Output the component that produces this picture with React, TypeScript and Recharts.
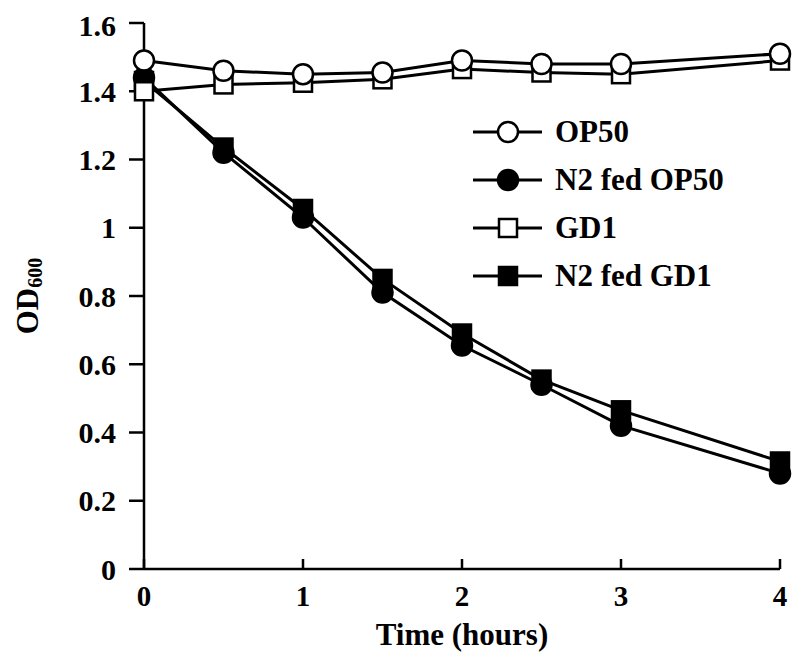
import { Label, Legend, Line, LineChart, XAxis, YAxis } from 'recharts';

const hours = [0, 0.5, 1, 1.5, 2, 2.5, 3, 4];
const op50 = [1.49, 1.46, 1.45, 1.455, 1.49, 1.48, 1.48, 1.51];
const n2FedOp50 = [1.44, 1.22, 1.03, 0.81, 0.655, 0.54, 0.42, 0.28];
const gd1 = [1.4, 1.42, 1.425, 1.435, 1.465, 1.455, 1.45, 1.49];
const n2FedGd1 = [1.43, 1.235, 1.055, 0.85, 0.69, 0.555, 0.465, 0.315];

const xTicks = [0, 1, 2, 3, 4];
const yTicks = [0, 0.2, 0.4, 0.6, 0.8, 1, 1.2, 1.4, 1.6];

const FONT = "'Liberation Serif', 'Times New Roman', serif";

interface SeriesDef {
    key: string;
    name: string;
    shape: 'circle' | 'square';
    fill: string;
}

// drawn in this order, so the open markers end up on top
const series: SeriesDef[] = [
    { key: 'n2op50', name: 'N2 fed OP50', shape: 'circle', fill: '#000' },
    { key: 'n2gd1', name: 'N2 fed GD1', shape: 'square', fill: '#000' },
    { key: 'gd1', name: 'GD1', shape: 'square', fill: '#fff' },
    { key: 'op50', name: 'OP50', shape: 'circle', fill: '#fff' },
];
const legendOrder = ['op50', 'n2op50', 'gd1', 'n2gd1'];

const data = hours.map((t, i) => ({
    t,
    op50: op50[i],
    n2op50: n2FedOp50[i],
    gd1: gd1[i],
    n2gd1: n2FedGd1[i],
}));

const Marker = ({ cx, cy, shape, fill }: { cx: number; cy: number; shape: string; fill: string }) =>
    shape === 'circle' ? (
        <circle cx={cx} cy={cy} r={10} fill={fill} stroke='#000' strokeWidth={2.5} />
    ) : (
        <rect x={cx - 9} y={cy - 9} width={18} height={18} fill={fill} stroke='#000' strokeWidth={2.5} />
    );

const X_TICK_GAP = 27;

const XTick = (props: any) => {
    const { x, y, payload } = props;
    const axisY = y - X_TICK_GAP;
    return (
        <g>
            <line x1={x} x2={x} y1={axisY} y2={axisY - 10} stroke='#000' strokeWidth={2.5} />
            <text x={x} y={y} dy='0.35em' textAnchor='middle' fontFamily={FONT} fontWeight='bold' fontSize={29} fill='#000'>
                {payload.value}
            </text>
        </g>
    );
};

const YLabel = (props: any) => {
    const vb = props.viewBox;
    const cx = 19;
    const cy = vb.y + vb.height / 2;
    return (
        <text
            x={cx}
            y={cy}
            transform={`rotate(-90, ${cx}, ${cy})`}
            textAnchor='middle'
            dominantBaseline='central'
            fontFamily={FONT}
            fontWeight='bold'
            fontSize={31}
            fill='#000'
        >
            OD<tspan fontSize={20} dy={8}>600</tspan>
        </text>
    );
};

const XLabel = (props: any) => {
    const vb = props.viewBox;
    return (
        <text
            x={vb.x + vb.width / 2}
            y={vb.y + 65}
            textAnchor='middle'
            dominantBaseline='central'
            fontFamily={FONT}
            fontWeight='bold'
            fontSize={31}
            fill='#000'
        >
            Time (hours)
        </text>
    );
};

const LegendBox = () => (
    <div>
        {legendOrder.map((k) => {
            const s = series.find((d) => d.key === k)!;
            return (
                <div key={k} style={{ display: 'flex', alignItems: 'center', height: 48 }}>
                    <svg width={88} height={48}>
                        <line x1={11} x2={80} y1={24} y2={24} stroke='#000' strokeWidth={3} />
                        <Marker cx={46} cy={24} shape={s.shape} fill={s.fill} />
                    </svg>
                    <span style={{ marginLeft: 5, fontFamily: FONT, fontWeight: 'bold', fontSize: 31, whiteSpace: 'nowrap' }}>
                        {s.name}
                    </span>
                </div>
            );
        })}
    </div>
);

export default function App() {
    return (
        <LineChart width={792} height={657} data={data} margin={{ top: 15, right: 20, bottom: 36, left: 0 }}>
            <XAxis
                dataKey='t'
                type='number'
                domain={[0, 4]}
                ticks={xTicks}
                height={60}
                tickSize={0}
                tickMargin={X_TICK_GAP}
                tickLine={false}
                tick={<XTick />}
                axisLine={{ stroke: '#000', strokeWidth: 2.5 }}
            >
                <Label content={<XLabel />} />
            </XAxis>
            <YAxis
                type='number'
                domain={[0, 1.6]}
                ticks={yTicks}
                width={136}
                tickSize={15}
                tickMargin={13}
                tickLine={{ stroke: '#000', strokeWidth: 2.5 }}
                axisLine={{ stroke: '#000', strokeWidth: 2.5 }}
                tick={{ fill: '#000', fontFamily: FONT, fontWeight: 'bold', fontSize: 30 }}
            >
                <Label content={<YLabel />} />
            </YAxis>
            <Legend
                layout='vertical'
                align='center'
                verticalAlign='middle'
                content={<LegendBox />}
                wrapperStyle={{ left: 454, top: 100, width: 320 }}
            />
            {series.map((s) => (
                <Line
                    key={s.key}
                    dataKey={s.key}
                    name={s.name}
                    type='linear'
                    stroke='#000'
                    strokeWidth={3}
                    isAnimationActive={false}
                    dot={(p: any) => <Marker key={`${s.key}-${p.index}`} cx={p.cx} cy={p.cy} shape={s.shape} fill={s.fill} />}
                    activeDot={false}
                />
            ))}
        </LineChart>
    );
}
